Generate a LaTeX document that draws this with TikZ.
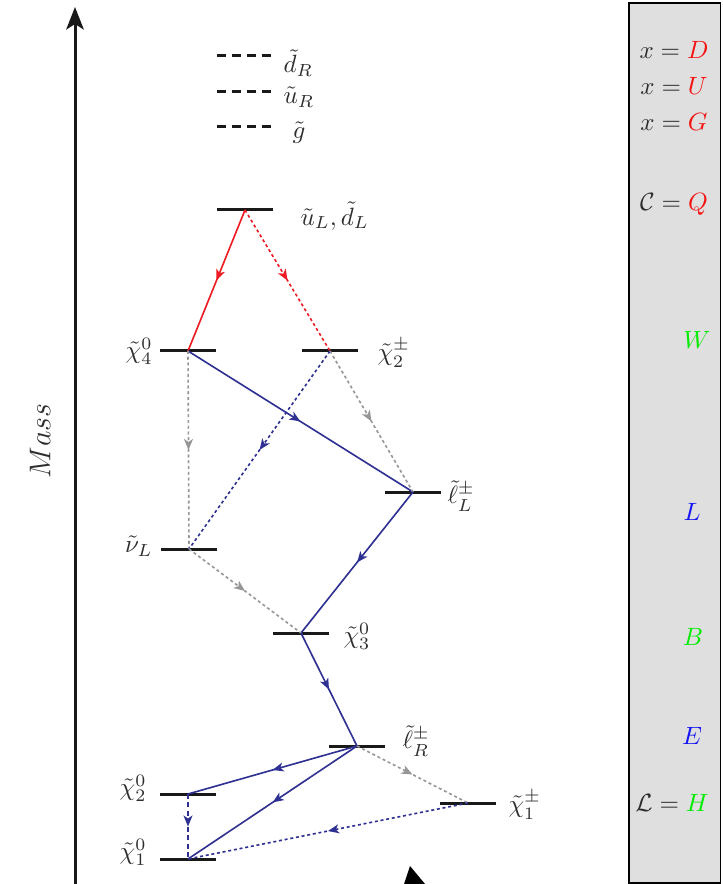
\documentclass[tikz,border=0pt]{standalone}
\usetikzlibrary{arrows.meta,decorations.markings,calc}
\definecolor{lred}{RGB}{237,28,36}
\definecolor{lblue}{RGB}{46,49,146}
\definecolor{lgray}{RGB}{150,150,150}
\definecolor{boxfill}{RGB}{223,223,223}
\definecolor{txt}{RGB}{45,45,45}
\definecolor{tgreen}{RGB}{0,235,0}
\definecolor{tblue}{RGB}{20,20,245}
\definecolor{tred}{RGB}{245,20,20}
\begin{document}
\begin{tikzpicture}[x=0.4pt,y=-0.4pt,
  level/.style={line width=1.2pt,black!90},
  lvldash/.style={level,dash pattern=on 3.6pt off 2.4pt},
  conn/.style={line width=0.65pt},
  fine/.style={dash pattern=on 1.2pt off 1.1pt},
  coarse/.style={dash pattern=on 2pt off 1.3pt},
  midarrow/.style={postaction={decorate,decoration={markings,mark=at position 0.5 with {\arrow{Stealth[length=4.4pt,width=3.6pt,inset=1.2pt]}}}}},
  lab/.style={inner sep=0pt,text=txt},
]
\useasboundingbox (0,0) rectangle (722,884);

% legend box
\draw[line width=0.6pt,fill=boxfill] (629,3) rectangle (720.5,883);
\node[lab] (bD) at (674,50) {$x=\textcolor{tred}{D}$};
\node[lab] (bU) at (674,86) {$x=\textcolor{tred}{U}$};
\node[lab] (bG) at (674,122) {$x=\textcolor{tred}{G}$};
\node[lab] (bQ) at (674,204) {$\mathcal{C}=\textcolor{tred}{Q}$};
\node[lab] (bW) at (697,340) {$\textcolor{tgreen}{W}$};
\node[lab] (bL) at (692,512) {$\textcolor{tblue}{L}$};
\node[lab] (bB) at (693,637) {$\textcolor{tgreen}{B}$};
\node[lab] (bE) at (692,736) {$\textcolor{tblue}{E}$};
\node[lab] (bH) at (672,803) {$\mathcal{L}=\textcolor{tgreen}{H}$};

% mass axis
\draw[line width=1.2pt,black!90,-{Stealth[length=9pt,width=7pt,inset=2.2pt]}] (75,884) -- (75,7);
\node[lab,rotate=90,font=\large] (mass) at (40,441) {$Mass$};

% level vertices
\coordinate (dR) at (244.5,56);
\coordinate (uR) at (244.5,92);
\coordinate (gl) at (244.5,127);
\coordinate (uL) at (245,210);
\coordinate (c4) at (188,351);
\coordinate (cp2) at (330,351);
\coordinate (lL) at (413,492);
\coordinate (nL) at (189,549);
\coordinate (c3) at (301,633);
\coordinate (lR) at (357,746);
\coordinate (c2) at (188,794);
\coordinate (cp1) at (468,803);
\coordinate (c1) at (188,859);

% level lines
\foreach \c in {dR,uR,gl}{\draw[lvldash] ($(\c)+(-28,0)$) -- ($(\c)+(28,0)$);}
\foreach \c in {uL,c4,cp2,lL,nL,c3,lR,c2,cp1,c1}{\draw[level] ($(\c)+(-28,0)$) -- ($(\c)+(28,0)$);}

% labels
\node[lab,anchor=west] (tdR) at (283,63) {$\tilde d_R$};
\node[lab,anchor=west] (tuR) at (283,97) {$\tilde u_R$};
\node[lab,anchor=west] (tg) at (292,133) {$\tilde g$};
\node[lab,anchor=west] (tuL) at (300,216) {$\tilde u_L,\tilde d_L$};
\node[lab,anchor=east] (tc4) at (153,351) {$\tilde\chi^0_4$};
\node[lab,anchor=west] (tcp2) at (377,353) {$\tilde\chi^\pm_2$};
\node[lab,anchor=west] (tlL) at (447,496) {$\tilde\ell^\pm_L$};
\node[lab,anchor=east] (tnL) at (153,546) {$\tilde\nu_L$};
\node[lab,anchor=west] (tc3) at (343,636) {$\tilde\chi^0_3$};
\node[lab,anchor=west] (tlR) at (402,741) {$\tilde\ell^\pm_R$};
\node[lab,anchor=west] (tcp1) at (508,805) {$\tilde\chi^\pm_1$};
\node[lab,anchor=east] (tc2) at (147,788) {$\tilde\chi^0_2$};
\node[lab,anchor=east] (tc1) at (147,852) {$\tilde\chi^0_1$};

% decays
\draw[conn,lred,midarrow] (uL) -- (c4);
\draw[conn,lred,fine,midarrow] (uL) -- (cp2);
\draw[conn,lblue,midarrow] (c4) -- (lL);
\draw[conn,lgray,fine,midarrow] (c4) -- (nL);
\draw[conn,lblue,fine,midarrow] (cp2) -- (nL);
\draw[conn,lgray,fine,midarrow] (cp2) -- (lL);
\draw[conn,lblue,midarrow] (lL) -- (c3);
\draw[conn,lgray,fine,midarrow] (nL) -- (c3);
\draw[conn,lblue,midarrow] (c3) -- (lR);
\draw[conn,lblue,midarrow] (lR) -- (c2);
\draw[conn,lblue,midarrow] (lR) -- (c1);
\draw[conn,lgray,fine,midarrow] (lR) -- (cp1);
\draw[conn,lblue,coarse,midarrow] (c2) -- (c1);
\draw[conn,lblue,fine,midarrow] (cp1) -- (c1);

% partial triangle at the bottom
\fill[black] (410,866) -- (404,884) -- (425,884) -- cycle;
\end{tikzpicture}
\end{document}
